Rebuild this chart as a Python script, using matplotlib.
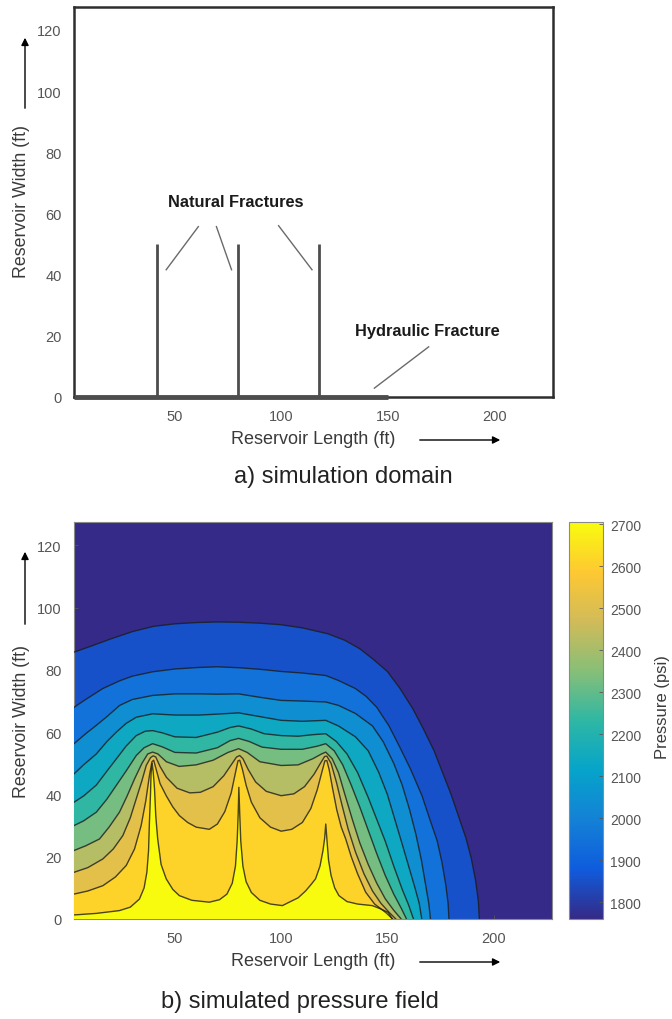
import matplotlib
matplotlib.use("Agg")
import matplotlib.pyplot as plt
from matplotlib.colors import LinearSegmentedColormap, Normalize
from matplotlib.cm import ScalarMappable
from matplotlib.patches import FancyArrowPatch

plt.rcParams["font.family"] = ["Liberation Sans", "DejaVu Sans"]

# ---------------- data ----------------
natural_fracture_x = [41.5, 79.5, 117.5]
natural_fracture_length = 50
hydraulic_fracture_end = 150

x_ticks = [50, 100, 150, 200]
y_ticks = [0, 20, 40, 60, 80, 100, 120]
cbar_ticks = [1800, 1900, 2000, 2100, 2200, 2300, 2400, 2500, 2600, 2700]
pressure_min, pressure_max = 1760, 2705

# pressure value of each contour line, outermost (lowest) to innermost (highest)
contour_levels = [1854.5, 1949, 2043.5, 2138, 2232.5, 2327, 2421.5, 2516, 2610.5, 2705]

# contour lines of the simulated pressure field, (x ft, y ft), outermost first
contour_1 = [(2.5, 85.7), (10, 87.5), (20, 90), (30, 92.3), (40, 94), (50, 94.8), (60, 95.2),
             (70, 95.4), (80, 95.3), (90, 95), (100, 94.5), (110, 93.5), (122, 91.6), (130, 89.5),
             (137, 86.8), (143, 83.6), (150, 79.5), (156, 74), (162, 67.5), (167, 61), (172, 54),
             (176, 47), (180, 40), (184, 32), (187, 26), (189.5, 19.5), (191.5, 12.5), (192.8, 6),
             (193.3, 0)]
contour_2 = [(2.5, 68), (8, 70.5), (16, 74), (24, 76.5), (30, 78), (39.5, 79.4), (50, 80.3),
             (61.5, 80.8), (70, 81), (80, 80.7), (90, 80.2), (100, 79.5), (110, 79), (121, 78.2),
             (127, 76.6), (135, 74), (140, 71.5), (145, 68), (150.7, 62.1), (156, 55), (161, 48),
             (166.3, 39.6), (170, 32), (173.5, 25), (175.7, 18.2), (177.5, 11), (178.6, 5), (179, 0)]
contour_3 = [(2.5, 56.3), (8, 59.5), (13, 62.2), (18, 65), (24, 68.6), (30, 70.5), (39.5, 71.8),
             (50, 72.3), (61.5, 72.3), (70, 72.2), (80, 72.3), (90, 71.2), (100, 70.2), (110, 70),
             (121, 69.7), (127, 68.6), (135, 66), (143, 62), (148, 57), (153, 50), (157, 43),
             (160.5, 35), (163.5, 27), (166, 19), (168, 11), (169.5, 5), (170.3, 0)]
contour_4 = [(2.5, 46.6), (7, 49.5), (13, 53), (18, 57), (22.4, 60), (27, 62.8), (31.8, 64.8),
             (39.5, 65.9), (50, 65.5), (61.5, 65.5), (70, 65.8), (80, 66.2), (90, 65), (100, 63.8),
             (110, 63.5), (121, 63.8), (127, 62), (135, 58.5), (141, 54), (146, 47), (150, 40),
             (153.5, 32), (157, 24), (160, 17), (163, 10), (165, 5), (166.2, 0)]
contour_5 = [(2.5, 37.5), (7, 39.5), (13, 43), (18, 47.5), (22.4, 51.4), (27, 55.5), (31.8, 58.9),
             (36, 60.3), (39.5, 60.5), (44, 59.8), (50, 58.5), (60, 58.3), (70, 60), (76, 61.5),
             (80, 62), (86, 61), (92, 59.5), (100, 58.9), (108, 58.7), (115, 59.2), (121, 59.5),
             (126, 57), (131, 53), (136, 47), (141, 39), (145, 32), (149, 25), (153, 17),
             (157, 9.5), (160, 4.5), (162.3, 0)]
contour_6 = [(2.5, 30), (7, 31.5), (13, 34.3), (18, 38.5), (22.4, 42.9), (27, 47.5), (31.8, 52.5),
             (35.5, 55), (39.5, 56.3), (44, 55.3), (50, 53.5), (60, 53.3), (70, 55), (76, 57.3),
             (80, 58), (85, 57), (91, 55.2), (100, 54.5), (110, 54.5), (117, 55.5), (121, 56.3),
             (125, 54), (129, 49.5), (133, 43), (137, 36), (141, 28.5), (145, 21), (149, 14),
             (153, 8), (156.5, 3.5), (159, 0)]
contour_7 = [(2.5, 22), (8, 23.5), (14.5, 25.7), (19, 29.5), (23.9, 34.3), (27.5, 39.5), (31, 45),
             (34.5, 50), (37.2, 53), (39.5, 53.6), (42, 53), (46, 50.5), (52, 49), (60, 49.5),
             (68, 51), (75, 53.5), (80, 54.7), (84, 53.5), (90, 50.5), (100, 49.3), (108, 49.5),
             (115, 51.5), (119, 53), (121, 53.6), (124, 51.5), (127, 47), (130, 40), (133.5, 32),
             (137, 24.5), (141, 17.5), (145, 11.5), (149, 6.5), (153, 2.8), (156.5, 0)]
contour_8 = [(2.5, 15), (9, 16.5), (16.1, 19.3), (21, 22.5), (25.5, 26.8), (29, 32.5), (31.8, 38.6),
             (34.5, 44.5), (36.5, 49.3), (38.5, 51.8), (39.8, 52.4), (41, 52), (43, 49), (46, 45.5),
             (51, 42), (57, 40.5), (62, 40.7), (68, 42.5), (73, 46), (77, 50), (79, 52), (80.5, 52.5),
             (82, 51.5), (84.5, 48), (88, 44), (93, 41), (100, 39.6), (106, 40.2), (111, 42.5),
             (115.5, 46.5), (118.5, 50), (120.5, 52.2), (121.5, 52.3), (123.5, 50), (126, 44),
             (128.5, 37), (131.5, 29), (135, 21.5), (139, 14.5), (143, 9), (147, 5), (151, 2),
             (154, 0)]
contour_9 = [(2.5, 8), (9, 9), (16.1, 10.7), (22, 13.5), (27.1, 17.2), (31, 22.5), (34.1, 30),
             (36.3, 38), (38, 46), (39.2, 50.5), (40, 51), (41.2, 48), (43, 43.5), (45.9, 39.6),
             (49, 36), (52.1, 33.2), (56, 31), (60, 29.5), (66.2, 28.8), (70, 30.5), (73.5, 34.5),
             (76.5, 40.5), (78.5, 47), (79.7, 50.8), (80.5, 51), (81.8, 48), (83.5, 43), (86, 37.5),
             (90, 32.5), (95, 29.5), (100, 28.2), (105, 28.8), (110, 31), (114, 35.5), (117, 41.5),
             (119.3, 47.5), (120.6, 50.8), (121.5, 50.9), (122.6, 48), (124.2, 42), (126.2, 35),
             (128.3, 29.5), (130.4, 25.7), (133, 20), (136, 14.5), (139.8, 8.6), (144, 4.8),
             (149.2, 2.1), (152.5, 0)]
contour_10 = [(2.5, 1.3), (13, 1.8), (23.9, 2.7), (29, 3.8), (33.3, 6.4), (35.5, 10), (36.8, 15),
              (37.6, 22), (38, 31), (38.5, 40), (38.8, 47), (39.3, 50), (39.8, 47), (40.4, 41.8),
              (41, 33), (41.9, 25.7), (43.5, 17.5), (45.9, 12.9), (49, 9.5), (52.1, 7.5), (58, 6),
              (66.2, 5.4), (71, 6.2), (74.5, 8), (77, 11.5), (78.5, 17), (79.3, 25), (79.8, 34),
              (80.1, 42.3), (80.5, 34), (81, 25), (82, 17), (83.5, 12), (86, 8.5), (90, 6), (95, 4.8),
              (100.6, 4.3), (103.8, 5.4), (108, 6.8), (111.5, 9), (114, 11), (116.2, 12.9),
              (118.3, 17), (119.7, 22), (120.5, 26), (121, 30.5), (121.5, 26), (122.3, 19),
              (123.5, 14), (125.2, 10), (127.2, 7.5), (131, 5.6), (136, 4.8), (142.9, 4.3),
              (147, 3.2), (150.4, 2.1), (152.3, 0)]
contour_lines = [contour_1, contour_2, contour_3, contour_4, contour_5,
                 contour_6, contour_7, contour_8, contour_9, contour_10]

# ---------------- styling helpers ----------------
parula = LinearSegmentedColormap.from_list(
    "parula", ["#352a87", "#0f5cdd", "#1481d6", "#06a4ca", "#2eb7a4",
               "#87bf77", "#d1bb59", "#fec832", "#f9fb0e"])
norm = Normalize(pressure_min, pressure_max)

W, H = 672, 1020
fig = plt.figure(figsize=(W / 100, H / 100), dpi=100)


def fbox(x0, y0, x1, y1):
    return [x0 / W, 1 - y1 / H, (x1 - x0) / W, (y1 - y0) / H]


def ftext(px, py, s, **kw):
    fig.text(px / W, 1 - py / H, s, **kw)


def farrow(x0, y0, x1, y1):
    fig.add_artist(FancyArrowPatch((x0 / W, 1 - y0 / H), (x1 / W, 1 - y1 / H),
                                   transform=fig.transFigure, arrowstyle="-|>",
                                   mutation_scale=11, lw=1.0, color="black"))


tick_color = "#555555"
label_color = "#3a3a3a"
XLIM = (2.5, 227.5)
YLIM = (0, 127.5)

# ---------------- a) simulation domain ----------------
ax1 = fig.add_axes(fbox(74, 8, 553, 398))
ax1.set_xlim(*XLIM)
ax1.set_ylim(*YLIM)
for sp in ax1.spines.values():
    sp.set_linewidth(1.8)
    sp.set_color("#2e2e2e")
ax1.set_xticks(x_ticks)
ax1.set_yticks(y_ticks)
ax1.tick_params(length=0, labelsize=10.5, labelcolor=tick_color, pad=9)

for xf in natural_fracture_x:
    ax1.plot([xf, xf], [0, natural_fracture_length], color="#4d4d4d", lw=2.0,
             solid_capstyle="butt", zorder=3)
ax1.plot([XLIM[0], hydraulic_fracture_end], [0, 0], color="#4d4d4d", lw=3.5,
         solid_capstyle="butt", zorder=4, clip_on=False)

ax1.text(78.7, 63.8, "Natural Fractures", ha="center", va="center",
         fontsize=11.8, fontweight="bold", color="#1a1a1a")
ax1.text(168.5, 21.6, "Hydraulic Fracture", ha="center", va="center",
         fontsize=11.8, fontweight="bold", color="#1a1a1a")
leader = dict(color="#6a6a6a", lw=1.0)
ax1.plot([60.9, 45.8], [55.7, 41.6], **leader)
ax1.plot([69.4, 76.5], [55.7, 41.6], **leader)
ax1.plot([98.6, 114.3], [56.0, 41.6], **leader)
ax1.plot([169.1, 143.6], [16.4, 2.9], **leader)

ftext(22, 202, "Reservoir Width (ft)", rotation=90, ha="center", va="center",
      fontsize=12.8, color=label_color)
farrow(25, 112, 25, 36)
ftext(313, 440, "Reservoir Length (ft)", ha="center", va="center",
      fontsize=13, color=label_color)
farrow(417, 441, 503, 441)
ftext(343, 477, "a) simulation domain", ha="center", va="center",
      fontsize=17, color="#222222")

# ---------------- b) simulated pressure field ----------------
ax2 = fig.add_axes(fbox(74, 523, 552, 920))
ax2.set_xlim(*XLIM)
ax2.set_ylim(*YLIM)
ax2.set_facecolor(parula(norm(pressure_min)))
for i, line in enumerate(contour_lines):
    xs = [p[0] for p in line]
    ys = [p[1] for p in line]
    ax2.fill(xs + [xs[-1], xs[0]], ys + [0, 0], color=parula(norm(contour_levels[i])),
             lw=0, zorder=2 + i)
for line in contour_lines:
    ax2.plot([p[0] for p in line], [p[1] for p in line], color="#1c1c1c", alpha=0.8,
             lw=1.0, zorder=20)
for sp in ax2.spines.values():
    sp.set_linewidth(0.8)
    sp.set_color("#8a8a8a")
ax2.set_xticks(x_ticks)
ax2.set_yticks(y_ticks)
ax2.tick_params(direction="in", length=3, width=0.6, color="#555555",
                labelsize=10.5, labelcolor=tick_color, pad=9, top=False, right=False)

cax = fig.add_axes(fbox(569, 523, 603, 920))
cb = fig.colorbar(ScalarMappable(norm=norm, cmap=parula), cax=cax, ticks=cbar_ticks)
cb.outline.set_linewidth(0.8)
cb.outline.set_edgecolor("#8a8a8a")
cax.tick_params(direction="in", length=3, width=0.6, color="#555555",
                labelsize=10, labelcolor=tick_color, pad=5)
ftext(663, 707, "Pressure (psi)", rotation=90, ha="center", va="center",
      fontsize=12, color=label_color)

ftext(22, 722, "Reservoir Width (ft)", rotation=90, ha="center", va="center",
      fontsize=12.8, color=label_color)
farrow(25, 628, 25, 550)
ftext(313, 962, "Reservoir Length (ft)", ha="center", va="center",
      fontsize=13, color=label_color)
farrow(417, 963, 503, 963)
ftext(300, 1002, "b) simulated pressure field", ha="center", va="center",
      fontsize=17, color="#222222")

fig.savefig("out.png", dpi=100)
